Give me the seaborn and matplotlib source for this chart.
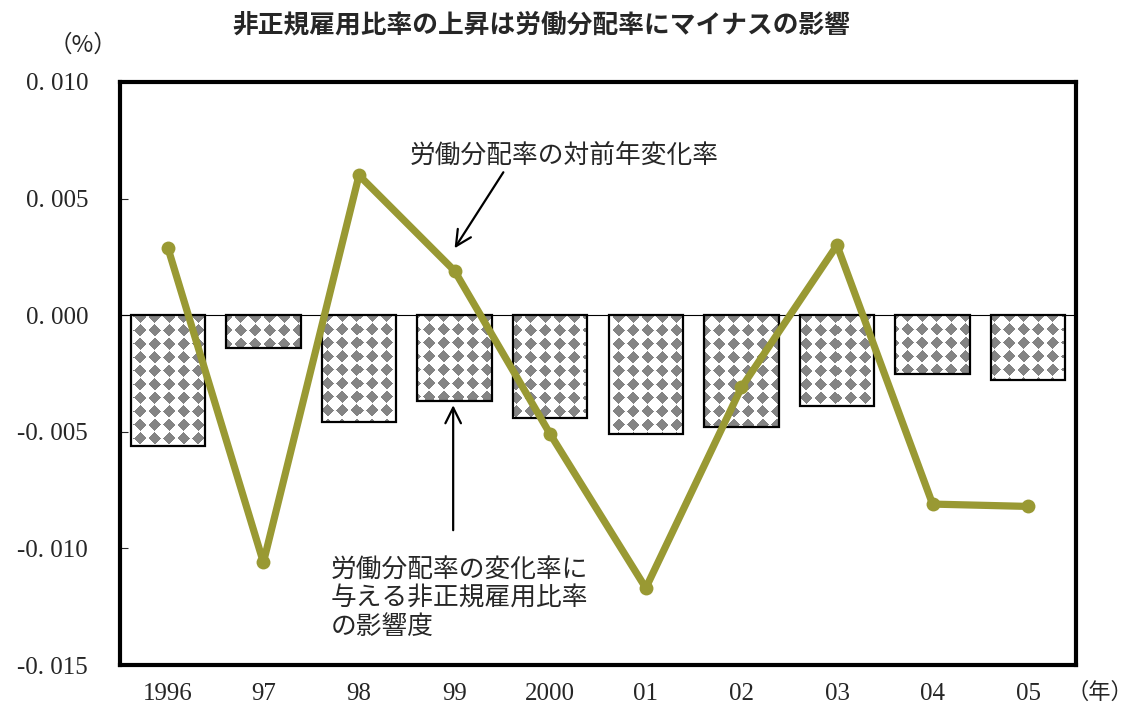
import numpy as np
import pandas as pd
import matplotlib
matplotlib.use("Agg")
import matplotlib.pyplot as plt
import seaborn as sns

years = ["1996", "97", "98", "99", "2000", "01", "02", "03", "04", "05"]
# 労働分配率の変化率に与える非正規雇用比率の影響度 (%)
impact = [-0.0056, -0.0014, -0.0046, -0.0037, -0.0044, -0.0051, -0.0048, -0.0039, -0.0025, -0.0028]
# 労働分配率の対前年変化率 (%)
labor_share_change = [0.0029, -0.0106, 0.0060, 0.0019, -0.0051, -0.0117, -0.0031, 0.0030, -0.0081, -0.0082]
yticks = [0.010, 0.005, 0.000, -0.005, -0.010, -0.015]
ytick_labels = ["0. 010", "0. 005", "0. 000", "-0. 005", "-0. 010", "-0. 015"]

df = pd.DataFrame({"year": years, "impact": impact, "change": labor_share_change})
df["pos"] = np.arange(len(df))

sns.set_theme(style="white")
plt.rcParams["font.family"] = ["Noto Sans CJK JP", "DejaVu Sans"]

W, H, DPI = 1136, 706, 100
fig = plt.figure(figsize=(W / DPI, H / DPI), dpi=DPI)
ax = fig.add_axes([120 / W, 1 - 665 / H, (1076 - 120) / W, (665 - 82) / H])

YMIN, YMAX = -0.015, 0.010
XMIN, XMAX = -0.5, len(years) - 0.5

sns.barplot(data=df, x="year", y="impact", order=years, color="white",
            edgecolor="black", linewidth=1.6, width=0.78, saturation=1,
            ax=ax, zorder=2)
ax.set_xlim(XMIN, XMAX)
ax.set_ylim(YMIN, YMAX)

# diamond texture for the bars, built in screen pixels
x0, y0 = ax.transData.transform((XMIN, YMAX))
x1, y1 = ax.transData.transform((XMAX, YMIN))
pw, ph = int(round(abs(x1 - x0))), int(round(abs(y1 - y0)))
jj, ii = np.meshgrid(np.arange(pw), np.arange(ph))
cx, cy = 14.5, 13.5
u = np.mod(jj + 3, cx) - cx / 2
v = np.mod(ii + 2, cy) - cy / 2
tex = np.where(np.abs(u) / 6.5 + np.abs(v) / 6.2 <= 1.0, 0.52, 1.0)
rgb = np.dstack([tex, tex, tex])
for patch in ax.patches:
    patch.set_facecolor("none")
    patch.set_zorder(3)
    im = ax.imshow(rgb, extent=(XMIN, XMAX, YMIN, YMAX), origin="upper",
                   interpolation="nearest", aspect="auto", zorder=2.5)
    im.set_clip_path(patch)
ax.set_xlim(XMIN, XMAX)
ax.set_ylim(YMIN, YMAX)

ax.axhline(0, color="black", lw=0.8, zorder=1)

sns.lineplot(data=df, x="pos", y="change", color="#999933", lw=5.2,
             marker="o", markersize=10, markeredgewidth=0, ax=ax, zorder=5)

ax.set_xticks(df["pos"])
ax.set_xticklabels(years, family="Liberation Serif", fontsize=18)
ax.set_yticks(yticks)
ax.set_yticklabels(ytick_labels, family="Liberation Serif", fontsize=18)
ax.tick_params(axis="y", direction="in", length=6, width=0.8, left=True, pad=23)
ax.tick_params(axis="x", length=0, pad=13)
ax.set_xlabel("")
ax.set_ylabel("")
for s in ax.spines.values():
    s.set_linewidth(3)
    s.set_color("black")

fig.text(541 / W, 1 - 25 / H, "非正規雇用比率の上昇は労働分配率にマイナスの影響",
         ha="center", va="center", fontsize=18.5, fontweight="bold")
fig.text(83 / W, 1 - 45 / H, "（%）", ha="center", va="center", fontsize=17)
fig.text(1133 / W, 1 - 692 / H, "（年）", ha="right", va="center", fontsize=16)

# line label with arrow to the 99 point
ax.text(2.53, 0.00686, "労働分配率の対前年変化率", ha="left", va="center",
        fontsize=18.5)
ax.annotate("", xy=(3.0, 0.00287), xytext=(3.51, 0.00613),
            arrowprops=dict(arrowstyle="->", color="black", lw=1.6,
                            mutation_scale=28, shrinkA=0, shrinkB=0))

# bar label with arrow to the 99 bar
ax.text(1.70, -0.0104, "労働分配率の変化率に\n与える非正規雇用比率\nの影響度",
        ha="left", va="top", fontsize=18.5, linespacing=1.1)
ax.annotate("", xy=(2.985, -0.00386), xytext=(2.985, -0.00922),
            arrowprops=dict(arrowstyle="->", color="black", lw=1.6,
                            mutation_scale=28, shrinkA=0, shrinkB=0))

fig.savefig("out.png", dpi=DPI)
